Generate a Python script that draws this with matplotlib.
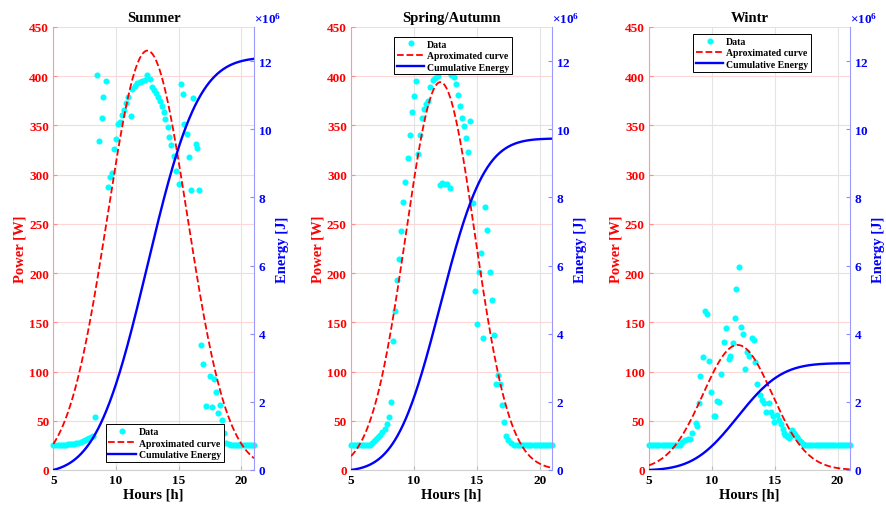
#%%
import numpy as np
import matplotlib
matplotlib.use("Agg")
import matplotlib.pyplot as plt
from matplotlib.ticker import ScalarFormatter

plt.rcParams['font.family'] = 'Liberation Serif'
plt.rcParams['font.weight'] = 'bold'
plt.rcParams['axes.titleweight'] = 'bold'
plt.rcParams['axes.labelweight'] = 'bold'
plt.rcParams['mathtext.fontset'] = 'custom'
plt.rcParams['mathtext.rm'] = 'Liberation Serif:bold'
plt.rcParams['mathtext.it'] = 'Liberation Serif:bold'
plt.rcParams['mathtext.bf'] = 'Liberation Serif:bold'

titles = ["Summer", "Spring/Autumn", "Wintr"]

# fitted curve: peak [W], centre [h], width [h]
summer_fit = [426, 12.5, 3.18]
spring_fit = [394, 12.1, 2.75]
winter_fit = [127, 12.05, 2.75]

#%%
# summer measurements (10 min samples in the flat parts)
summer_hours_am = np.arange(5, 8.2, 1 / 6)
summer_power_am = [25, 25, 25, 25, 25.5, 25.5, 25.5, 26, 26, 26.5,
                   26.5, 27, 27.5, 28, 29, 30, 31, 32, 33.5, 35]
summer_hours_mid = [8.31, 8.49, 8.65, 8.84, 8.97, 9.16, 9.32, 9.50, 9.66, 9.82,
                    9.98, 10.16, 10.29, 10.48, 10.61, 10.82, 10.98, 11.17, 11.30, 11.48,
                    11.67, 11.88, 12.10, 12.28, 12.49, 12.67, 12.86, 13.04, 13.20, 13.37,
                    13.47, 13.63, 13.81, 13.94, 14.13, 14.26, 14.40, 14.60, 14.79, 14.98,
                    15.14, 15.32, 15.45, 15.63, 15.79, 16.0, 16.17, 16.38, 16.46, 16.60,
                    16.80, 16.96, 17.20, 17.46, 17.62, 17.83, 17.97, 18.13, 18.28, 18.45,
                    18.63, 18.79]
summer_power_mid = [53.5, 401, 334.5, 358, 379, 395, 287, 298, 302, 326,
                    336, 351, 354, 361, 366, 373, 379, 360, 387, 390,
                    393, 394, 395.5, 396.5, 401.5, 397, 389, 386, 382.6, 379,
                    375, 370, 364, 356.5, 348, 338.6, 330, 319, 304, 291,
                    392, 381.6, 351, 341, 318, 284.5, 377.6, 331, 327, 284.5,
                    127, 108, 65, 95, 64, 92, 79, 57.6, 66, 51,
                    37.6, 27.4]
summer_hours_pm = np.arange(19, 21.05, 1 / 6)
summer_power_pm = [26, 25.5, 25, 25, 25, 25, 25, 25, 25, 25, 25, 25, 25]

# spring / autumn measurements
spring_hours_am = np.arange(5, 8.05, 1 / 6)
spring_power_am = [25, 25, 25, 25, 25, 25, 25, 25, 25, 25.5,
                   27, 29, 31.5, 33.5, 36, 38.5, 42, 47, 54]
spring_hours_mid = [8.19, 8.32, 8.51, 8.64, 8.82, 8.98, 9.17, 9.30, 9.49, 9.65,
                    9.84, 10.02, 10.16, 10.36, 10.50, 10.68, 10.82, 10.95, 11.08, 11.29,
                    11.48, 11.69, 11.88, 12.04, 12.22, 12.40, 12.62, 12.83, 12.97, 13.15,
                    13.34, 13.50, 13.63, 13.82, 14.0, 14.16, 14.32, 14.48, 14.70, 14.83,
                    15.02, 15.18, 15.33, 15.52, 15.68, 15.81, 16.02, 16.21, 16.37, 16.50,
                    16.69, 16.85, 17.0, 17.17, 17.35, 17.49, 17.70, 17.96]
spring_power_mid = [69, 131, 161, 193, 214, 243, 272, 293, 317, 340,
                    364, 380, 395.5, 321, 340, 358, 367, 372, 375, 389,
                    396, 398, 400, 289, 292, 290.5, 290.5, 286, 401.6, 399,
                    392, 381, 370, 358, 349, 337, 323, 355, 271, 182,
                    148, 201.5, 220, 134, 267.5, 244, 201.5, 173, 137, 87,
                    96.5, 87.4, 66, 48.5, 35, 30, 27, 25.4]
spring_hours_pm = np.arange(18.17, 21.05, 1 / 6)
spring_power_pm = [25] * 18

# winter measurements
winter_hours_am = np.arange(5, 7.55, 1 / 6)
winter_power_am = [25] * 16
winter_hours_mid = [7.64, 7.90, 8.12, 8.30, 8.43, 8.70, 8.83, 8.96, 9.09, 9.28,
                    9.44, 9.62, 9.81, 9.97, 10.15, 10.28, 10.41, 10.60, 10.76, 10.97,
                    11.13, 11.34, 11.47, 11.66, 11.81, 11.95, 12.13, 12.29, 12.47, 12.61,
                    12.82, 12.98, 13.19, 13.35, 13.40, 13.61, 13.80, 13.98, 14.11, 14.32,
                    14.51, 14.67, 14.83, 14.98, 15.17, 15.35, 15.51, 15.64, 15.75, 15.85,
                    15.96, 16.05, 16.15, 16.25, 16.30, 16.41, 16.52, 16.62, 16.75, 16.88,
                    17.02, 17.12, 17.23, 17.35]
winter_power_mid = [28, 30, 31, 31, 37.6, 48, 45, 68, 95, 114.5,
                    161, 158.5, 111, 79, 55, 55, 70.4, 69.4, 98, 130,
                    144, 113, 116, 129, 154, 184, 206.5, 145, 138, 102.6,
                    120, 115.5, 133.7, 132.4, 109.4, 87.4, 76.5, 71.4, 68, 58.6,
                    68, 58.6, 55.2, 48.4, 56.2, 51, 46.7, 41.6, 37.6, 36,
                    35, 33, 32.2, 35, 38, 41, 37.6, 36, 33.2, 31,
                    29.8, 28, 26.4, 25.5]
winter_hours_pm = np.arange(17.5, 21.05, 1 / 6)
winter_power_pm = [25] * 22

#%%
def season_panel(fig, rect, hours, power, fit, title, leg_loc, leg_anchor):
    ax = fig.add_axes(rect)
    # approximated curve and its cumulative energy
    t = np.linspace(5, 21, 500)
    p_fit = fit[0] * np.exp(-(t - fit[1]) ** 2 / (2 * fit[2] ** 2))
    energy = np.concatenate([[0], np.cumsum(0.5 * (p_fit[1:] + p_fit[:-1]) * np.diff(t))]) * 3600

    h_data, = ax.plot(hours, power, 'o', color='cyan', ms=4.4, mec='none',
                      clip_on=False, zorder=2, label='Data')
    h_fit, = ax.plot(t, p_fit, '--', color='red', lw=1.3, zorder=3,
                     label='Aproximated curve')
    ax.set_xlim(5, 21)
    ax.set_ylim(0, 450)
    ax.set_xticks([5, 10, 15, 20])
    ax.set_yticks(np.arange(0, 451, 50))
    ax.set_axisbelow(True)
    ax.yaxis.grid(True, color='#ffd6d6', lw=0.8)
    ax.xaxis.grid(True, color='#e4e4e4', lw=0.8)
    ax.tick_params(axis='y', direction='in', length=3, color='#ff8c8c',
                   labelcolor='red', labelsize=9.5, pad=3)
    ax.tick_params(axis='x', direction='in', length=3, color='#bbbbbb',
                   labelcolor='black', labelsize=9.5, pad=3)
    ax.spines['left'].set_color('#ff9a9a')
    ax.spines['bottom'].set_color('#d0d0d0')
    ax.spines['top'].set_visible(False)
    ax.spines['right'].set_visible(False)
    ax.set_title(title, fontsize=10.5, pad=4)
    ax.set_xlabel('Hours [h]', fontsize=10.5, labelpad=1)
    ax.set_ylabel('Power [W]', fontsize=10.5, color='red', labelpad=2)

    ax2 = ax.twinx()
    h_en, = ax2.plot(t, energy, '-', color='#0000ff', lw=1.7, label='Cumulative Energy')
    ax2.set_ylim(0, 13e6)
    ax2.set_yticks(np.arange(0, 12.1e6, 2e6))
    fmt = ScalarFormatter(useMathText=True)
    fmt.set_powerlimits((6, 6))
    ax2.yaxis.set_major_formatter(fmt)
    off = ax2.yaxis.get_offset_text()
    off.set_color('blue')
    off.set_fontsize(9.5)
    off.set_horizontalalignment('left')
    ax2.tick_params(axis='y', direction='in', length=3, color='#8c8cff',
                    labelcolor='blue', labelsize=9.5, pad=3)
    ax2.spines['right'].set_color('#9a9aff')
    for s in ['top', 'left', 'bottom']:
        ax2.spines[s].set_visible(False)
    ax2.set_ylabel('Energy [J]', fontsize=10.5, color='blue', labelpad=2)

    leg = ax2.legend([h_data, h_fit, h_en], ['Data', 'Aproximated curve', 'Cumulative Energy'],
                     loc=leg_loc, bbox_to_anchor=leg_anchor, fontsize=7, fancybox=False,
                     framealpha=1, edgecolor='black', handlelength=2.8, handletextpad=0.3,
                     borderpad=0.3, labelspacing=0.25, borderaxespad=0, numpoints=1)
    leg.get_frame().set_linewidth(0.7)
    return ax, ax2


fig = plt.figure(figsize=(8.86, 5.10), dpi=100)

summer_hours = np.concatenate([summer_hours_am, summer_hours_mid, summer_hours_pm])
summer_power = np.concatenate([summer_power_am, summer_power_mid, summer_power_pm])
spring_hours = np.concatenate([spring_hours_am, spring_hours_mid, spring_hours_pm])
spring_power = np.concatenate([spring_power_am, spring_power_mid, spring_power_pm])
winter_hours = np.concatenate([winter_hours_am, winter_hours_mid, winter_hours_pm])
winter_power = np.concatenate([winter_power_am, winter_power_mid, winter_power_pm])

season_panel(fig, [0.0602, 0.0765, 0.2265, 0.8686], summer_hours, summer_power,
             summer_fit, titles[0], 'lower left', (0.26, 0.018))
season_panel(fig, [0.3962, 0.0765, 0.2272, 0.8686], spring_hours, spring_power,
             spring_fit, titles[1], 'upper left', (0.214, 0.978))
season_panel(fig, [0.7325, 0.0765, 0.2270, 0.8686], winter_hours, winter_power,
             winter_fit, titles[2], 'upper left', (0.219, 0.984))

plt.savefig("out.png", dpi=100)
